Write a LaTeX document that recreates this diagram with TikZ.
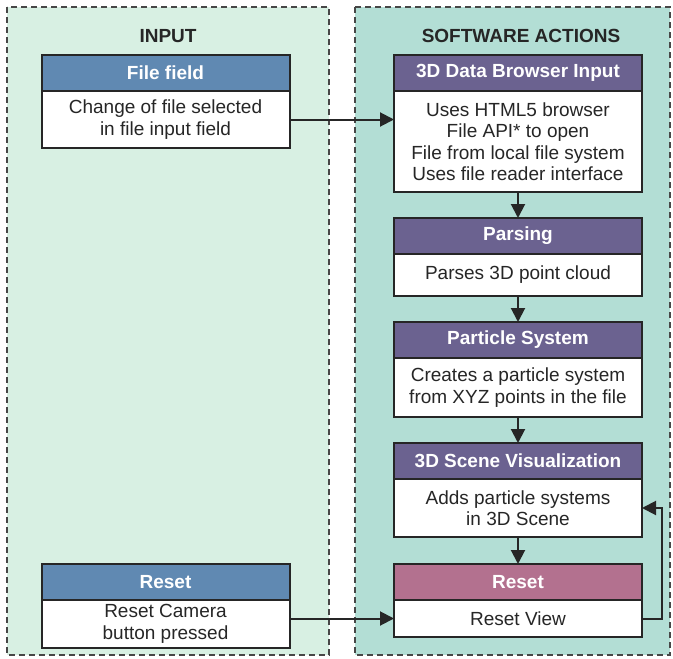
\documentclass[tikz,border=0pt]{standalone}
\usepackage{fontspec}
\setmainfont{Liberation Sans}
\usetikzlibrary{positioning,arrows.meta}
\definecolor{inbg}{HTML}{D8F0E3}
\definecolor{swbg}{HTML}{B3DED5}
\definecolor{hdrblue}{HTML}{6089B2}
\definecolor{hdrpurple}{HTML}{6B6290}
\definecolor{hdrpink}{HTML}{B3718F}
\definecolor{ink}{HTML}{262626}
\begin{document}
\begin{tikzpicture}[x=1pt, y=-1pt, line width=2pt, node distance=26pt,
    panel/.style={draw=ink!85, dash pattern=on 6pt off 4pt},
    title/.style={text=ink, font=\fontsize{19}{21}\selectfont\bfseries},
    hdr/.style={draw=ink, fill=#1, text=white, font=\fontsize{19}{21}\selectfont\bfseries,
      minimum width=248pt, minimum height=36pt, inner sep=0pt, outer sep=0pt},
    body/.style={draw=ink, fill=white, text=ink, font=\fontsize{19}{21.5}\selectfont,
      align=center, minimum width=248pt, minimum height=#1, inner sep=0pt, outer sep=0pt},
    arr/.style={draw=ink, -{Triangle[length=14pt,width=14pt]}}]
  \useasboundingbox (0,0) rectangle (673,659);
  \draw[panel, fill=inbg] (7,7) rectangle (329,655);
  \draw[panel, fill=swbg] (355,7) rectangle (670,655);

  \node[title] (intitle) at (168,36) {INPUT};
  \node[title] (swtitle) at (521,36) {SOFTWARE ACTIONS};

  \node[hdr=hdrblue] (ffhdr) at (165.5,73) {File field};
  \node[body=57pt, below=0pt of ffhdr] (ffbody) {Change of file selected\\in file input field};

  \node[hdr=hdrblue] (inrshdr) at (165.5,582) {Reset};
  \node[body=48pt, below=0pt of inrshdr] (inrsbody) {Reset Camera\\button pressed};

  \node[hdr=hdrpurple] (dbhdr) at (518,73) {3D Data Browser Input};
  \node[body=101pt, below=0pt of dbhdr] (dbbody) {Uses HTML5 browser\\File API* to open\\File from local file system\\Uses file reader interface};

  \node[hdr=hdrpurple, below=of dbbody] (parhdr) {Parsing};
  \node[body=42pt, below=0pt of parhdr] (parbody) {Parses 3D point cloud};

  \node[hdr=hdrpurple, below=of parbody] (pshdr) {Particle System};
  \node[body=59pt, below=0pt of pshdr] (psbody) {Creates a particle system\\from XYZ points in the file};

  \node[hdr=hdrpurple, below=of psbody] (schdr) {3D Scene Visualization};
  \node[body=58pt, below=0pt of schdr] (scbody) {Adds particle systems\\in 3D Scene};

  \node[hdr=hdrpink, below=27pt of scbody] (rshdr) {Reset};
  \node[body=37pt, below=0pt of rshdr] (rsbody) {Reset View};

  \draw[arr] (ffbody.east) -- (ffbody.east -| dbbody.west);
  \draw[arr] (dbbody) -- (parhdr);
  \draw[arr] (parbody) -- (pshdr);
  \draw[arr] (psbody) -- (schdr);
  \draw[arr] (scbody) -- (rshdr);
  \draw[arr] (inrsbody.east |- rsbody.west) -- (rsbody.west);
  \draw[arr] (rsbody.east) -- ++(20,0) |- (scbody.east);
\end{tikzpicture}
\end{document}
